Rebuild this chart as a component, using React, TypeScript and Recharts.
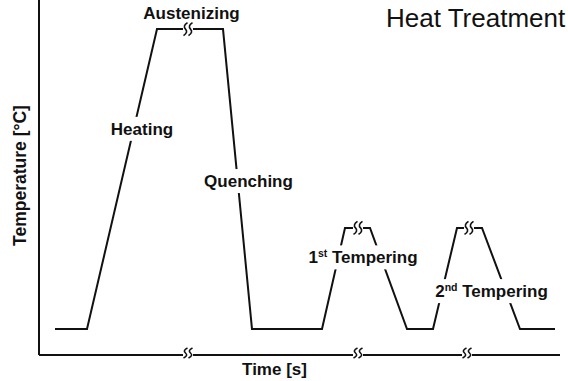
import { Line, LineChart, ReferenceDot, XAxis, YAxis } from "recharts"

// time in arbitrary units, temperature scaled 0..1000
const times = [16, 48, 118, 184, 213, 283, 306, 331, 368, 394, 418, 443, 481, 516]
const temps = [73, 73, 918, 918, 73, 73, 358, 358, 73, 73, 358, 358, 73, 73]

const profile = times.map((t, i) => ({ time: t, temp: temps[i] }))

// break marks on the curve and on the time axis
const curveBreaks = [
  { time: 149, temp: 918 },
  { time: 319, temp: 358 },
  { time: 430, temp: 358 },
]
const axisBreaks = [149, 319, 428]

// stage labels, anchored at their centre
const stageNames = ["Austenizing", "Heating", "Quenching", "Tempering", "Tempering"]
const stagePrefix = ["", "", "", "1|st", "2|nd"]
const stageTimes = [152.5, 103, 209.5, 324, 452.5]
const stageTemps = [963, 637, 490, 275, 180]
const stageWidths = [98, 63, 92, 116, 119]

const FONT = "'Liberation Sans', Arial, sans-serif"

function BreakMark({ cx, cy, h = 12 }: { cx?: number; cy?: number; h?: number }) {
  if (cx == null || cy == null) return null
  const half = h / 2
  const squiggle = (x: number) =>
    `M ${x + 2} ${cy - half} Q ${x - 3} ${cy - half / 2} ${x} ${cy} Q ${x + 3} ${cy + half / 2} ${x - 2} ${cy + half}`
  return (
    <g>
      <rect x={cx - 5} y={cy - half} width={10} height={h} fill="#fff" />
      <path d={squiggle(cx - 2.5)} stroke="#111" strokeWidth={1.6} fill="none" />
      <path d={squiggle(cx + 2.5)} stroke="#111" strokeWidth={1.6} fill="none" />
    </g>
  )
}

function StageLabel({ cx, cy, name, prefix, width }: any) {
  if (cx == null || cy == null) return null
  const [num, sup] = prefix ? prefix.split("|") : ["", ""]
  return (
    <g>
      <rect x={cx - width / 2 - 3} y={cy - 12} width={width + 6} height={24} fill="#fff" />
      <text
        x={cx}
        y={cy}
        dy="0.36em"
        textAnchor="middle"
        fontFamily={FONT}
        fontWeight="bold"
        fontSize={17}
        fill="#111"
      >
        {prefix ? (
          <>
            <tspan>{num}</tspan>
            <tspan dy={-6} fontSize={10.5}>
              {sup}
            </tspan>
            <tspan dy={6}>{" " + name}</tspan>
          </>
        ) : (
          name
        )}
      </text>
    </g>
  )
}

export default function App() {
  return (
    <div style={{ position: "absolute", left: 0, top: 0, width: 568, height: 381, background: "#fff" }}>
      <LineChart width={568} height={381} data={profile} margin={{ top: 0, right: 8, left: 0, bottom: 0 }}>
        <XAxis
          dataKey="time"
          type="number"
          domain={[0, 521]}
          height={26}
          tick={false}
          tickLine={false}
          axisLine={{ stroke: "#111", strokeWidth: 2 }}
          label={{
            content: ({ viewBox }: any) => (
              <text
                x={viewBox.x + viewBox.width / 2 - 25}
                y={viewBox.y + 20}
                textAnchor="middle"
                fontFamily={FONT}
                fontWeight="bold"
                fontSize={17}
                fill="#111"
              >
                Time [s]
              </text>
            ),
          }}
        />
        <YAxis
          type="number"
          domain={[0, 1000]}
          width={39}
          tick={false}
          tickLine={false}
          axisLine={{ stroke: "#111", strokeWidth: 2 }}
          label={{
            content: ({ viewBox }: any) => {
              const x = viewBox.x + viewBox.width - 13
              const y = viewBox.y + viewBox.height / 2 - 2
              return (
                <text
                  x={x}
                  y={y}
                  transform={`rotate(-90 ${x} ${y})`}
                  textAnchor="middle"
                  fontFamily={FONT}
                  fontWeight="bold"
                  fontSize={17.5}
                  fill="#111"
                >
                  Temperature [°C]
                </text>
              )
            },
          }}
        />
        <Line
          type="linear"
          dataKey="temp"
          stroke="#111"
          strokeWidth={2}
          dot={false}
          activeDot={false}
          isAnimationActive={false}
        />
        {stageNames.map((name, i) => (
          <ReferenceDot
            key={"s" + i}
            x={stageTimes[i]}
            y={stageTemps[i]}
            ifOverflow="visible"
            zIndex={1500}
            shape={(p: any) => (
              <StageLabel cx={p.cx} cy={p.cy} name={name} prefix={stagePrefix[i]} width={stageWidths[i]} />
            )}
          />
        ))}
        {curveBreaks.map((b, i) => (
          <ReferenceDot
            key={"c" + i}
            x={b.time}
            y={b.temp}
            ifOverflow="visible"
            zIndex={1500}
            shape={(p: any) => <BreakMark cx={p.cx} cy={p.cy} h={13} />}
          />
        ))}
        {axisBreaks.map((t, i) => (
          <ReferenceDot
            key={"a" + i}
            x={t}
            y={0}
            ifOverflow="visible"
            zIndex={1500}
            shape={(p: any) => <BreakMark cx={p.cx} cy={p.cy == null ? undefined : p.cy - 2} h={10} />}
          />
        ))}
      </LineChart>
      <div
        style={{
          position: "absolute",
          left: 386,
          top: 5,
          fontFamily: FONT,
          fontSize: 26,
          lineHeight: "26px",
          color: "#111",
          whiteSpace: "nowrap",
        }}
      >
        Heat Treatment
      </div>
    </div>
  )
}
